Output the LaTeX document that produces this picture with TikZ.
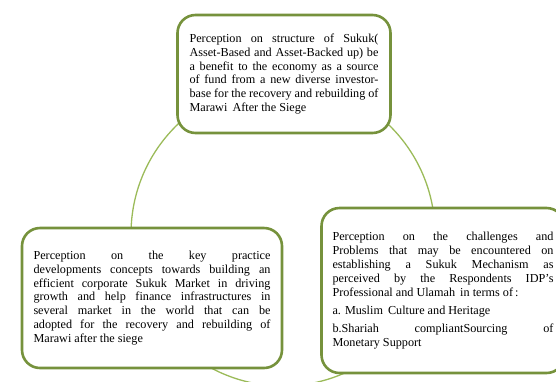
\documentclass[tikz,border=0pt]{standalone}
\usepackage{fontspec}
\setmainfont{Liberation Serif}
\usepackage{tikz}
\definecolor{boxgreen}{RGB}{118,146,60}
\definecolor{ringgreen}{RGB}{155,187,89}
\hyphenpenalty=10000

\begin{document}
\begin{tikzpicture}[x=1pt,y=-1pt,
    box/.style={draw=boxgreen,line width=2.6pt,fill=white,rounded corners=18pt,
                align=justify,inner ysep=0pt,
                font=\fontsize{12.2}{13.9}\selectfont},
    ring/.style={draw=ringgreen,line width=1.3pt}]
    \useasboundingbox (0,0) rectangle (556,381);

    \coordinate (hub) at (283,234);
    \draw[ring] (hub) circle (152);

    \node[box,text width=189pt,inner xsep=12pt,minimum height=118pt]
        (perc1) at (284,74)
        {Perception on structure of Sukuk(\linebreak
         Asset-Based and Asset-Backed up) be\linebreak
         a benefit to the economy as a source\linebreak
         of fund from a new diverse investor-\linebreak
         base for the recovery and rebuilding of\linebreak
         Marawi\, After the Siege};
    \node[box,text width=237pt,inner xsep=11.5pt,minimum height=140pt]
        (perc2) at (152,298)
        {Perception on the key practice\linebreak
         developments concepts towards building an\linebreak
         efficient corporate Sukuk Market in driving\linebreak
         growth and help finance infrastructures in\linebreak
         several market in the world that can be\linebreak
         adopted for the recovery and rebuilding of\linebreak
         Marawi after the siege};
    \node[box,text width=221pt,inner xsep=11pt,minimum height=165pt]
        (perc3) at (443,290.5)
        {Perception on the challenges and\linebreak
         Problems that may be encountered on\linebreak
         establishing a Sukuk Mechanism as\linebreak
         perceived by the Respondents IDP’s\linebreak
         Professional and Ulamah\, in terms of\,:\par\vspace{4pt}
         a. Muslim\, Culture and Heritage\par\vspace{4pt}
         b.Shariah compliantSourcing of\linebreak
         Monetary Support};

  \end{tikzpicture}
\end{document}
